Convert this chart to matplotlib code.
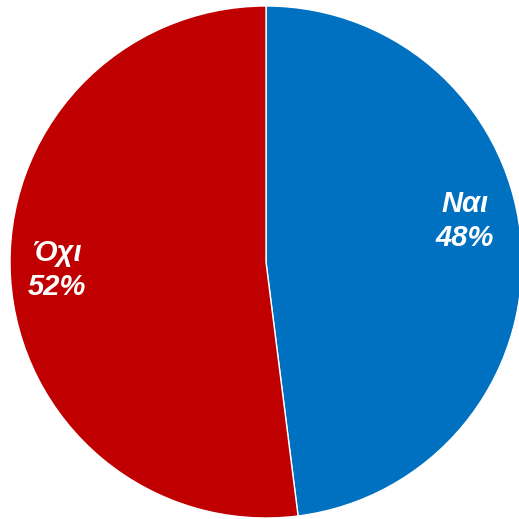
import matplotlib
matplotlib.use("Agg")
import matplotlib.pyplot as plt

labels = ["Ναι", "Όχι"]
values = [48, 52]
colors = ["#0070C0", "#C00000"]

W = 519
fig = plt.figure(figsize=(W / 100, W / 100), dpi=100)
ax = fig.add_axes([0, 0, 1, 1])
cx, cy, r = 266, 262, 256
ax.pie(values, colors=colors, startangle=90, counterclock=False, radius=1,
       wedgeprops=dict(edgecolor="white", linewidth=1))
ax.set_xlim(-cx / r, (W - cx) / r)
ax.set_ylim(-(W - cy) / r, cy / r)
ax.set_aspect("equal")
ax.axis("off")

label_pos = [((465 - cx) / r, (cy - 221) / r), ((57 - cx) / r, (cy - 270) / r)]
for lab, v, (x, y) in zip(labels, values, label_pos):
    ax.text(x, y, f"{lab}\n{v}%", color="white", ha="center", va="center",
            fontsize=21, fontweight="bold", fontstyle="italic",
            family=["Liberation Sans", "DejaVu Sans"], linespacing=1.3)

fig.savefig("out.png", dpi=100)
